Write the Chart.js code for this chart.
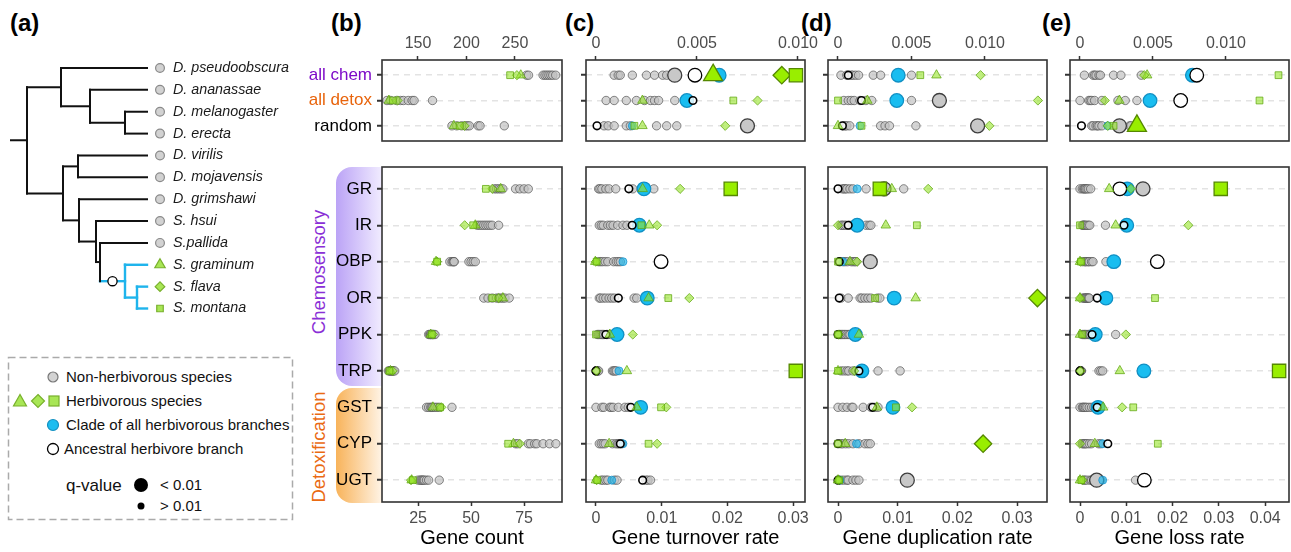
<!DOCTYPE html>
<html>
<head>
<meta charset="utf-8">
<script src="https://cdn.jsdelivr.net/npm/chart.js@4.4.1/dist/chart.umd.min.js"></script>
<style>
  body { margin: 0; width: 1291px; height: 552px; overflow: hidden; background: #fff; position: relative;
         font-family: "Liberation Sans", Arial, Helvetica, sans-serif; }
  canvas { position: absolute; }
  .txt { position: absolute; white-space: nowrap; }
  .letter { font-weight: bold; font-size: 24px; color: #000; top: 9px; }
  .band { position: absolute; left: 336px; width: 46px; border-radius: 16px 0 0 16px; }
  .vert { position: absolute; white-space: nowrap; font-size: 18.5px; transform: translate(-50%, -50%) rotate(-90deg); }
</style>
</head>
<body>

<div class="band" style="top:167px;height:219px;background:linear-gradient(to right,#bba3f6,#f1ecff);"></div>
<div class="band" style="top:388px;height:115px;background:linear-gradient(to right,#f8b35a,#fff4e6);"></div>
<div class="vert" style="left:319px;top:272px;color:#8a2fd6;">Chemosensory</div>
<div class="vert" style="left:319px;top:447px;color:#ea6a12;">Detoxification</div>

<div class="txt letter" style="left:10px;">(a)</div>
<div class="txt letter" style="left:331px;">(b)</div>
<div class="txt letter" style="left:565px;">(c)</div>
<div class="txt letter" style="left:801px;">(d)</div>
<div class="txt letter" style="left:1042px;">(e)</div>

<svg style="position:absolute;left:0;top:340px" width="300" height="200" viewBox="0 340 300 200"
     font-family="Liberation Sans, Arial, sans-serif" fill="#111">
  <rect x="8.5" y="357.5" width="284" height="162" fill="none" stroke="#aaa" stroke-width="1.5" stroke-dasharray="7,4"/>
  <circle cx="53" cy="377" r="5" fill="#d3d3d3" stroke="#777" stroke-width="1.2"/>
  <text x="66" y="382" font-size="15">Non-herbivorous species</text>
  <polygon points="20,394.5 13.5,406 26.5,406" fill="#a8e655" stroke="#78b02c" stroke-width="1.2"/>
  <polygon points="38,394.5 44.5,401 38,407.5 31.5,401" fill="#a8e655" stroke="#78b02c" stroke-width="1.2"/>
  <rect x="49" y="396" width="10" height="10" fill="#a8e655" stroke="#78b02c" stroke-width="1.2"/>
  <text x="66" y="406" font-size="15">Herbivorous species</text>
  <circle cx="53" cy="425" r="5.5" fill="#1cbdf0" stroke="#1590c0" stroke-width="1.2"/>
  <text x="66" y="430" font-size="15">Clade of all herbivorous branches</text>
  <circle cx="53" cy="449" r="5.5" fill="#fff" stroke="#000" stroke-width="1.3"/>
  <text x="64" y="454" font-size="15">Ancestral herbivore branch</text>
  <text x="66" y="491" font-size="17">q-value</text>
  <circle cx="141" cy="485" r="7" fill="#000"/>
  <text x="160" y="490" font-size="15">&lt; 0.01</text>
  <circle cx="141" cy="506" r="3.5" fill="#000"/>
  <text x="160" y="511" font-size="15">&gt; 0.01</text>
</svg>

<script>
// ---- rows ----
const rowsTop = ['all chem', 'all detox', 'random'];
const rowsBottom = ['GR', 'IR', 'OBP', 'OR', 'PPK', 'TRP', 'GST', 'CYP', 'UGT'];
const rowColorsTop = ['#7d0ac8', '#e8640c', '#000000'];

// ---- tree ----
const species = ['D. pseudoobscura', 'D. ananassae', 'D. melanogaster', 'D. erecta', 'D. virilis',
  'D. mojavensis', 'D. grimshawi', 'S. hsui', 'S.pallida', 'S. graminum', 'S. flava', 'S. montana'];
const tipKind = ['grey', 'grey', 'grey', 'grey', 'grey', 'grey', 'grey', 'grey', 'grey', 'tri', 'dia', 'sq'];
const nodeNames = ['root', 'A', 'ana', 'mel', 'B', 'vir', 'grim', 'hsui', 'pal', 'gram', 'fla'];
const nodeDepth = [16, 50, 79, 114, 52, 67, 68, 85, 89, 114, 126];
const nodeKids = [['A', 'B'], [0, 'ana'], [1, 'mel'], [2, 3], ['vir', 'grim'], [4, 5], [6, 'hsui'],
  [7, 'pal'], [8, 'gram'], [9, 'fla'], [10, 11]];
const herbClade = ['gram', 'fla', 9, 10, 11];
const tipDepth = 136;

// ---- (b) gene count: 9 non-herbivores, herbivores [graminum, flava, montana] ----
const countGrey = [
  [262, 264, 279, 281, 283, 285, 287, 289, 292],
  [118, 122, 128, 132, 135, 140, 144, 146, 165],
  [185, 190, 195, 199, 201, 203, 212, 214, 239],
  [61, 62, 63, 64, 65, 71, 73, 75, 77],
  [53, 54, 55, 56, 57, 58, 59, 60, 63],
  [40, 41, 41.5, 42, 42, 49, 50, 51, 52],
  [56, 58, 60, 62, 63, 64, 65, 66, 68],
  [30, 30.5, 31, 31, 31.5, 32, 32, 32.5, 33],
  [11, 11.5, 12, 12, 12.5, 13, 13, 13.5, 14],
  [29, 30, 31, 31.5, 32, 33, 34, 35, 41],
  [71, 72, 77, 78, 80, 81, 84, 87, 90],
  [25, 26, 26.5, 27, 27.5, 28, 29, 30, 35]
];
const countHerb = [[256, 252, 245], [120, 129, 124], [187, 198, 193], [64, 60, 57], [52, 47, 51],
  [33.5, 34, 34], [65, 63, 60], [31, 32, 31.5], [12, 13, 11.5], [32, 36, 35.4], [70, 73, 67.5], [22, 21.7, 22.6]];

// ---- (c) gene turnover rate ----
const turnGrey = [
  [0.0009, 0.0011, 0.0012, 0.0018, 0.0025, 0.0029, 0.0033, 0.0035],
  [0.0005, 0.0009, 0.0015, 0.002, 0.0024, 0.0027, 0.0029, 0.0031, 0.0039],
  [0.0004, 0.0006, 0.0009, 0.0015, 0.0017, 0.003, 0.0035, 0.004],
  [0.0004, 0.0006, 0.0009, 0.0015, 0.002, 0.003, 0.0056, 0.0075, 0.0088],
  [0.0005, 0.0008, 0.0011, 0.0018, 0.0022, 0.0026, 0.0033, 0.0041, 0.0047],
  [0.0004, 0.0007, 0.001, 0.0014, 0.0018, 0.0027, 0.0031, 0.0034, 0.0037],
  [0.0005, 0.0007, 0.0011, 0.0015, 0.002, 0.0024, 0.0028, 0.0058, 0.0062],
  [0.0002, 0.0004, 0.0006, 0.0008, 0.001, 0.0012, 0.0016, 0.0018, 0.0022],
  [0, 0.0001, 0.0002, 0.0003, 0.0004, 0.0025, 0.0027, 0.0029, 0.0031],
  [0, 0.0009, 0.0012, 0.0021, 0.0023, 0.0026, 0.0034, 0.0044, 0.0049],
  [0.0005, 0.0008, 0.0011, 0.0014, 0.0025, 0.003, 0.0033, 0.0035, 0.0039],
  [0.0008, 0.0011, 0.0015, 0.0018, 0.0028, 0.0032, 0.0076, 0.0079, 0.0083]
];
const turnGreyBig = [0.0039, null, 0.0075, null, null, null, null, null, null, null, null, null];
const turnHerb = [[0.0058, 0.0092, 0.0099], [0.0023, 0.008, 0.0068], [0.0023, 0.0064, 0.0019],
  [0.0071, 0.0128, 0.0205], [0.0081, 0.0093, 0.0069], [-0.0001, 0, 0.0001], [0.008, 0.0142, 0.011],
  [0.0021, 0.0056, 0], [0.0047, 0.0001, 0.0304], [0.0062, 0.0107, 0.0099], [0.002, 0.0093, 0.008], [0, 0.0001, 0.0002]];
const turnHerbBig = [[1, 1, 1], [0, 0, 0], [0, 0, 0], [0, 0, 1], [0, 0, 0], [0, 0, 0], [0, 0, 0], [0, 0, 0],
  [0, 0, 1], [0, 0, 0], [0, 0, 0], [0, 0, 0]];
const turnClade = [0.0061, 0.0045, 0.0018, 0.0073, 0.0066, 0.0041, 0.0078, 0.0032, 0.0035, 0.0068, 0.0041, 0.0024];
const turnCladeBig = [1, 1, 0, 1, 1, 0, 1, 1, 0, 1, 0, 0];
const turnAnc = [0.0049, 0.0048, 0.00005, 0.005, 0.0055, 0.0099, 0.0034, 0.0015, 0, 0.0053, 0.0037, 0.0071];
const turnAncBig = [1, 0, 0, 0, 0, 1, 0, 0, 0, 0, 0, 0];

// ---- (d) gene duplication rate ----
const dupGrey = [
  [0.0002, 0.0006, 0.0009, 0.001, 0.0012, 0.0014, 0.0024, 0.0029, 0.005],
  [0.0004, 0.0007, 0.0009, 0.0011, 0.0015, 0.0019, 0.0023, 0.005],
  [0.0004, 0.0005, 0.0006, 0.0008, 0.0029, 0.0032, 0.0035, 0.0053],
  [0.0007, 0.001, 0.0012, 0.0015, 0.002, 0.0025, 0.0047, 0.011],
  [0.0005, 0.0007, 0.001, 0.0013, 0.0019, 0.0025, 0.0047, 0.0052, 0.0055],
  [0.0004, 0.0009, 0.0012, 0.0016, 0.0022, 0.0025, 0.0028, 0.003],
  [0.0005, 0.0017, 0.0037, 0.004, 0.0045, 0.005, 0.0055, 0.0066, 0.007],
  [0.0002, 0.0004, 0.0006, 0.0008, 0.001, 0.0012, 0.0015, 0.0018, 0.002],
  [0.0005, 0.001, 0.0015, 0.0018, 0.0025, 0.003, 0.0036, 0.0067, 0.0104],
  [0, 0.0008, 0.0015, 0.0023, 0.0025, 0.0042, 0.0055, 0.0062, 0.0067],
  [0.0005, 0.0008, 0.0013, 0.0018, 0.0025, 0.0035, 0.0045, 0.005, 0.0054],
  [0.0005, 0.001, 0.0015, 0.0017, 0.0025, 0.003, 0.0035, 0.0118]
];
const dupGreyBig = [null, 0.0069, 0.0095, 0.0077, null, 0.0054, null, null, null, null, null, 0.0116];
const dupHerb = [[0.0067, 0.0097, 0.0056], [0.002, 0.0136, 0], [0, 0.0103, 0.0016], [0.009, 0.0151, 0.007],
  [0.008, 0, 0.0132], [0.002, 0.0032, 0], [0.013, 0.0334, 0.0062], [0.0035, 0.0001, 0], [0, 0.0027, 0],
  [0.0065, 0.0124, 0.0097], [0.0012, 0.0243, 0], [0, 0.0001, 0.0002]];
const dupHerbBig = [[0, 0, 0], [0, 0, 0], [0, 0, 0], [0, 0, 1], [0, 0, 0], [0, 0, 0], [0, 1, 0], [0, 0, 0],
  [0, 0, 0], [0, 0, 0], [0, 1, 0], [0, 0, 0]];
const dupClade = [0.0041, 0.004, 0.0015, 0.0032, 0.0032, 0.0008, 0.0094, 0.0029, 0.004, 0.0092, 0.0031, 0.0003];
const dupCladeBig = [1, 1, 0, 0, 1, 0, 1, 1, 1, 1, 0, 0];
const dupAnc = [0.0007, 0.0016, 0.0003, 0, 0.0017, 0.0002, 0.0002, 0, 0.0035, 0.0058, 0, 0];
const dupAncBig = [0, 0, 0, 0, 0, 0, 0, 0, 0, 0, 0, 0];

// ---- (e) gene loss rate ----
const lossGrey = [
  [0.0003, 0.0009, 0.001, 0.0011, 0.0013, 0.0014, 0.0023, 0.0028, 0.0042],
  [0, 0.0006, 0.0007, 0.0008, 0.001, 0.0015, 0.0026, 0.0031, 0.0039],
  [0.0008, 0.0009, 0.0011, 0.0012, 0.0013, 0.0015, 0.0034, 0.0035],
  [0, 0.0005, 0.0008, 0.001, 0.0012, 0.0015, 0.0018, 0.0023],
  [0.0005, 0.0007, 0.0008, 0.001, 0.0012, 0.0015, 0.0018, 0.0021, 0.0055],
  [0.0005, 0.001, 0.0012, 0.0015, 0.0018, 0.002, 0.0025, 0.0028, 0.0056],
  [0.0005, 0.0008, 0.001, 0.0012, 0.0013, 0.0015, 0.0017, 0.0019, 0.002],
  [0.0005, 0.0008, 0.001, 0.0012, 0.0015, 0.0018, 0.002, 0.0022, 0.0077],
  [0, 0.0001, 0.0001, 0.0002, 0.0002, 0.0003, 0.0041, 0.0045, 0.0049],
  [0, 0.0005, 0.0007, 0.0009, 0.0012, 0.0015, 0.002, 0.0025, 0.003],
  [0.0005, 0.0007, 0.001, 0.0012, 0.0015, 0.002, 0.0025, 0.004, 0.0045],
  [0.0008, 0.001, 0.0015, 0.0022, 0.0025, 0.003, 0.0045, 0.012]
];
const lossGreyBig = [null, null, 0.0027, 0.0136, null, null, null, null, null, null, null, 0.0036];
const lossHerb = [[0.0046, 0.0044, 0.0136], [0.0027, 0.0017, 0.0123], [0.0039, 0.0019, 0.0023],
  [0.0063, 0.011, 0.0304], [0.0077, 0.0234, 0], [0, 0.0001, 0.0002], [0, 0, 0.0162], [0, 0.0099, 0.0005],
  [0.0086, 0.0001, 0.043], [0.005, 0.0091, 0.0115], [0.0032, 0, 0.0168], [0, 0.0005, 0.0003]];
const lossHerbBig = [[0, 0, 0], [0, 0, 0], [1, 0, 0], [0, 0, 1], [0, 0, 0], [0, 0, 0], [0, 0, 0], [0, 0, 0],
  [0, 0, 1], [0, 0, 0], [0, 0, 0], [0, 0, 0]];
const lossClade = [0.0077, 0.0048, 0.0019, 0.0102, 0.0101, 0.0073, 0.0056, 0.0033, 0.0138, 0.0039, 0.0049, 0.0049];
const lossCladeBig = [1, 1, 0, 1, 1, 1, 1, 1, 1, 1, 0, 0];
const lossAnc = [0.008, 0.0069, 0.0001, 0.0086, 0.0095, 0.0167, 0.0037, 0.0026, 0, 0.0037, 0.006, 0.0139];
const lossAncBig = [1, 1, 0, 1, 0, 1, 0, 0, 0, 0, 0, 1];

// ---- axis ticks ----
const countTicksTop = [150, 200, 250];
const countTicksBottom = [25, 50, 75];
const rateTicksTop = [0, 0.005, 0.01];
const rateTicksBottom = [0, 0.01, 0.02, 0.03];
const lossTicksBottom = [0, 0.01, 0.02, 0.03, 0.04];

const FONT = '"Liberation Sans", Arial, Helvetica, sans-serif';
Chart.defaults.font.family = FONT;

// marker look: [pointStyle, radius, fill, stroke, strokeWidth], listed bottom -> top
const STY = {
  greyS: ['circle', 4.2, 'rgba(196,196,196,0.72)', 'rgba(75,75,75,0.65)', 1],
  greyB: ['circle', 7, '#c8c8c8', '#3d3d3d', 1.3],
  cladeS: ['circle', 4, 'rgba(25,185,240,0.65)', 'rgba(15,140,200,0.7)', 1],
  cladeB: ['circle', 6.8, '#19bdf0', '#1190c4', 1.3],
  ancS: ['circle', 3.8, 'rgba(255,255,255,0.8)', '#000', 1.6],
  ancB: ['circle', 6.8, '#ffffff', '#000', 1.3],
  triS: ['triangle', 5.5, 'rgba(150,228,40,0.6)', 'rgba(95,165,15,0.75)', 1],
  diaS: ['rectRot', 4.6, 'rgba(150,228,40,0.6)', 'rgba(95,165,15,0.75)', 1],
  sqS: ['rect', 4.8, 'rgba(150,228,40,0.6)', 'rgba(95,165,15,0.75)', 1],
  triB: ['triangle', 11, '#99ee00', '#558800', 1.3],
  diaB: ['rectRot', 8.7, '#99ee00', '#558800', 1.3],
  sqB: ['rect', 9.4, '#99ee00', '#558800', 1.3]
};
const drawOrder = Object.keys(STY);

function makeCanvas(left, top, w, h) {
  const c = document.createElement('canvas');
  c.width = w; c.height = h;
  c.style.left = left + 'px'; c.style.top = top + 'px';
  c.style.width = w + 'px'; c.style.height = h + 'px';
  document.body.appendChild(c);
  return c;
}

// turn one metric's rows [i0, i0+n) into scatter datasets
function buildSets(m, i0, n) {
  const pts = {};
  drawOrder.forEach(k => pts[k] = []);
  for (let k = 0; k < n; k++) {
    const i = i0 + k, y = k + 1;
    m.grey[i].forEach(v => pts.greyS.push({x: v, y}));
    if (m.greyBig && m.greyBig[i] != null) pts.greyB.push({x: m.greyBig[i], y});
    ['tri', 'dia', 'sq'].forEach((s, j) => {
      const big = m.herbBig && m.herbBig[i][j];
      pts[s + (big ? 'B' : 'S')].push({x: m.herb[i][j], y});
    });
    if (m.clade) pts[m.cladeBig[i] ? 'cladeB' : 'cladeS'].push({x: m.clade[i], y});
    if (m.anc) pts[m.ancBig[i] ? 'ancB' : 'ancS'].push({x: m.anc[i], y});
  }
  return drawOrder.map((k, idx) => {
    const s = STY[k];
    return {
      data: pts[k], pointStyle: s[0], pointRadius: s[1], pointBackgroundColor: s[2],
      pointBorderColor: s[3], pointBorderWidth: s[4], order: drawOrder.length - idx, clip: false
    };
  });
}

const framePlugin = {
  id: 'frame',
  afterDatasetsDraw(ch) {
    const a = ch.chartArea, ctx = ch.ctx;
    ctx.save();
    ctx.strokeStyle = '#333';
    ctx.lineWidth = 1.6;
    ctx.strokeRect(a.left, a.top, a.right - a.left, a.bottom - a.top);
    ctx.restore();
  }
};

function scatterPanel(o) {
  const pr = 22;
  const frameW = o.frame[1] - o.frame[0];
  const c = makeCanvas(o.frame[0] - o.yW, o.top, o.yW + frameW + pr, o.h);
  new Chart(c, {
    type: 'scatter',
    data: {datasets: o.sets},
    options: {
      responsive: false,
      animation: false,
      events: [],
      layout: {autoPadding: false, padding: {left: 0, right: pr, top: o.padTop, bottom: o.padBottom}},
      plugins: {legend: {display: false}, tooltip: {enabled: false}},
      scales: {
        x: {
          type: 'linear', position: o.xPos, min: o.xmin, max: o.xmax,
          afterBuildTicks: s => { s.ticks = o.xticks.map(v => ({value: v})); },
          afterFit: s => { s.height = o.xH; s.paddingLeft = 0; s.paddingRight = 0; },
          ticks: {callback: o.fmt, font: {size: 16}, color: '#4d4d4d', padding: 3, maxRotation: 0, minRotation: 0, autoSkip: false},
          grid: {drawOnChartArea: false, drawTicks: true, tickLength: 4, tickColor: '#333', tickWidth: 1.5},
          border: {display: false},
          title: o.title
            ? {display: true, text: o.title, font: {size: 20}, color: '#000', padding: {top: 0, bottom: 2}}
            : {display: false}
        },
        y: {
          type: 'linear', reverse: true, min: 0.4, max: o.rows.length + 0.6,
          afterBuildTicks: s => { s.ticks = o.rows.map((r, i) => ({value: i + 1})); },
          afterFit: s => { s.width = o.yW; s.paddingTop = 0; s.paddingBottom = 0; },
          ticks: {
            display: o.showLabels,
            callback: v => o.rows[v - 1],
            font: {size: 17},
            color: ctx => (o.rowColors ? o.rowColors[ctx.index] : '#000'),
            padding: 5
          },
          grid: {color: '#e3e3e3', lineWidth: 1.5, tickLength: 5, tickColor: '#333', tickWidth: 2},
          border: {display: false, dash: [6, 5]}
        }
      }
    },
    plugins: [framePlugin]
  });
}

const fmt3 = v => (v === 0 ? '0' : v.toFixed(3));
const fmt2 = v => (v === 0 ? '0' : v.toFixed(2));

const count = {grey: countGrey, herb: countHerb};
const turn = {grey: turnGrey, greyBig: turnGreyBig, herb: turnHerb, herbBig: turnHerbBig,
  clade: turnClade, cladeBig: turnCladeBig, anc: turnAnc, ancBig: turnAncBig};
const dup = {grey: dupGrey, greyBig: dupGreyBig, herb: dupHerb, herbBig: dupHerbBig,
  clade: dupClade, cladeBig: dupCladeBig, anc: dupAnc, ancBig: dupAncBig};
const loss = {grey: lossGrey, greyBig: lossGreyBig, herb: lossHerb, herbBig: lossHerbBig,
  clade: lossClade, cladeBig: lossCladeBig, anc: lossAnc, ancBig: lossAncBig};

const panels = [
  {m: count, frame: [382, 562], yW: 90, labels: true, title: 'Gene count',
    top: [112.9, 298.5, countTicksTop, String], bottom: [8.0, 92.9, countTicksBottom, String]},
  {m: turn, frame: [586, 805], yW: 8, labels: false, title: 'Gene turnover rate',
    top: [-0.000495, 0.01035, rateTicksTop, fmt3], bottom: [-0.00152, 0.0318, rateTicksBottom, fmt2]},
  {m: dup, frame: [828, 1047], yW: 8, labels: false, title: 'Gene duplication rate',
    top: [-0.00068, 0.01422, rateTicksTop, fmt3], bottom: [-0.00168, 0.035, rateTicksBottom, fmt2]},
  {m: loss, frame: [1070, 1289], yW: 8, labels: false, title: 'Gene loss rate',
    top: [-0.000685, 0.01432, rateTicksTop, fmt3], bottom: [-0.00216, 0.04514, lossTicksBottom, fmt2]}
];

panels.forEach(p => {
  scatterPanel({
    frame: p.frame, yW: p.yW, top: 30, h: 115, padTop: 0, padBottom: 4, xPos: 'top', xH: 30,
    xmin: p.top[0], xmax: p.top[1], xticks: p.top[2], fmt: p.top[3],
    rows: rowsTop, rowColors: rowColorsTop, showLabels: p.labels,
    sets: buildSets(p.m, 0, rowsTop.length)
  });
  scatterPanel({
    frame: p.frame, yW: p.yW, top: 163, h: 389, padTop: 4, padBottom: 0, xPos: 'bottom', xH: 50,
    xmin: p.bottom[0], xmax: p.bottom[1], xticks: p.bottom[2], fmt: p.bottom[3],
    rows: rowsBottom, rowColors: null, showLabels: p.labels, title: p.title,
    sets: buildSets(p.m, rowsTop.length, rowsBottom.length)
  });
});

// ---- (a) tree ----
const nodeIdx = k => nodeNames.indexOf(k);
function yOf(k) {
  if (typeof k === 'number') return k + 1;
  const kids = nodeKids[nodeIdx(k)];
  return kids.reduce((s, c) => s + yOf(c), 0) / kids.length;
}
const depthOf = k => (typeof k === 'number' ? tipDepth : nodeDepth[nodeIdx(k)]);
const isHerb = k => herbClade.includes(k);

const treeSets = [];
function seg(x0, y0, x1, y1, blue) {
  treeSets.push({
    data: [{x: x0, y: y0}, {x: x1, y: y1}], showLine: true, pointRadius: 0, clip: false,
    borderColor: blue ? '#1fb4ec' : '#111', borderWidth: blue ? 2.4 : 2, borderCapStyle: 'square'
  });
}
seg(0, yOf('root'), nodeDepth[0], yOf('root'), false);
nodeNames.forEach((n, i) => {
  const d = nodeDepth[i], kids = nodeKids[i];
  const ys = kids.map(yOf);
  seg(d, Math.min(...ys), d, Math.max(...ys), isHerb(n));
  kids.forEach(k => seg(d, yOf(k), depthOf(k), yOf(k), isHerb(k)));
});

const tipLook = {
  grey: ['circle', 4.4, '#d2d2d2', '#8a8a8a'],
  tri: ['triangle', 6, '#a8e655', '#78b02c'],
  dia: ['rectRot', 4.8, '#a8e655', '#78b02c'],
  sq: ['rect', 4.6, '#a8e655', '#78b02c']
};
const ancDepth = (nodeDepth[nodeIdx('pal')] + nodeDepth[nodeIdx('gram')]) / 2;
treeSets.unshift({
  data: [{x: ancDepth, y: yOf('gram')}], pointStyle: 'circle', pointRadius: 4.6,
  pointBackgroundColor: '#fff', pointBorderColor: '#000', pointBorderWidth: 1.3, clip: false
});
treeSets.unshift({
  data: species.map((s, i) => ({x: tipDepth + 13, y: i + 1})),
  pointStyle: tipKind.map(k => tipLook[k][0]),
  pointRadius: tipKind.map(k => tipLook[k][1]),
  pointBackgroundColor: tipKind.map(k => tipLook[k][2]),
  pointBorderColor: tipKind.map(k => tipLook[k][3]),
  pointBorderWidth: 1.2, clip: false
});

new Chart(makeCanvas(0, 55, 300, 265), {
  type: 'scatter',
  data: {datasets: treeSets},
  options: {
    responsive: false, animation: false, events: [],
    layout: {autoPadding: false, padding: 0},
    plugins: {legend: {display: false}, tooltip: {enabled: false}},
    scales: {
      x: {type: 'linear', display: false, min: -11, max: 156},
      y: {
        type: 'linear', position: 'right', reverse: true, min: 0.405, max: 12.526,
        afterBuildTicks: s => { s.ticks = species.map((n, i) => ({value: i + 1})); },
        afterFit: s => { s.width = 133; s.paddingTop = 0; s.paddingBottom = 0; },
        ticks: {callback: v => species[v - 1], font: {size: 14.3, style: 'italic'}, color: '#1a1a1a', padding: 6},
        grid: {display: false, drawTicks: false},
        border: {display: false}
      }
    }
  }
});
</script>
</body>
</html>
